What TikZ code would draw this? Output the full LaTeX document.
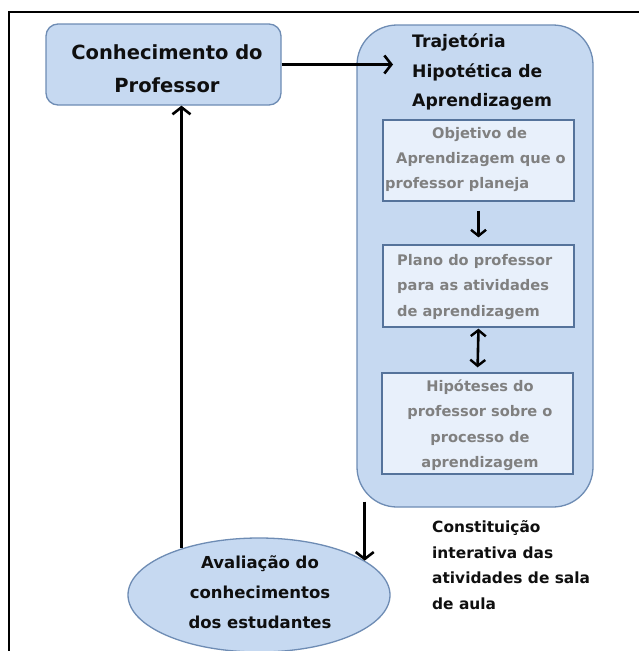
\documentclass[tikz,border=0pt]{standalone}
\usepackage{fontspec}
\setmainfont{DejaVu Sans}
\usetikzlibrary{arrows.meta,shapes.geometric}
\definecolor{fillc}{RGB}{198,217,241}
\definecolor{bordc}{RGB}{110,140,180}
\definecolor{innerfill}{RGB}{232,240,251}
\definecolor{innerbd}{RGB}{85,115,155}
\definecolor{graytxt}{RGB}{128,128,128}
\definecolor{blacktxt}{RGB}{15,15,15}
\tikzset{
  bluebox/.style={draw=bordc, fill=fillc, line width=1.3pt, inner sep=0pt},
  innerbox/.style={draw=innerbd, fill=innerfill, line width=1.3pt, inner sep=0pt},
  arr/.style={-{Straight Barb[length=7pt,width=18pt,line width=2.6pt]}, line width=2.8pt},
  smallarr/.style={-{Straight Barb[length=6pt,width=15pt,line width=2.4pt]}, line width=2.6pt},
  dblarr/.style={{Straight Barb[length=6pt,width=15pt,line width=2.4pt]}-{Straight Barb[length=6pt,width=15pt,line width=2.4pt]}, line width=2.6pt},
  txt/.style={inner sep=0pt, text=blacktxt, font=\bfseries},
  graytext/.style={inner sep=0pt, text=graytxt, font=\bfseries},
}
\begin{document}
\begin{tikzpicture}[x=1pt,y=-1pt]
\useasboundingbox (0,0) rectangle (639,651);
\fill[white] (0,0) rectangle (639,651);
% frame
\draw[line width=2.5pt, line cap=rect] (9,652) -- (9,12) -- (640,12);

% Conhecimento do Professor
\node[bluebox, rounded corners=12pt, minimum width=235pt, minimum height=81pt] (box1) at (163.5,64.5) {};
\node[txt, align=center, font=\bfseries\fontsize{19.5}{33}\selectfont] (t1) at (167,68.5) {Conhecimento do\\Professor};

% big rounded rectangle
\node[bluebox, rounded corners=40pt, minimum width=236pt, minimum height=482pt] (thl) at (475,266) {};
\node[txt, align=left, anchor=west, font=\bfseries\fontsize{17.2}{29.5}\selectfont] (title) at (412,72) {Trajetória\\Hipotética de\\Aprendizagem};

% inner boxes
\node[innerbox, minimum width=191pt, minimum height=81pt] (ib1) at (478.5,160.5) {};
\node[graytext, align=left, anchor=west, font=\bfseries\fontsize{14.6}{25}\selectfont] (it1) at (385,160) {\hspace*{47pt}Objetivo de\\\hspace*{11pt}Aprendizagem que o\\professor planeja};

\node[innerbox, minimum width=191pt, minimum height=82pt] (ib2) at (478.5,286) {};
\node[graytext, align=left, anchor=west, font=\bfseries\fontsize{14.6}{25.5}\selectfont] (it2) at (397,287) {Plano do professor\\para as atividades\\de aprendizagem};

\node[innerbox, minimum width=191pt, minimum height=101pt] (ib3) at (477.5,423.5) {};
\node[graytext, align=center, font=\bfseries\fontsize{14.6}{25.5}\selectfont] (it3) at (480,425) {Hipóteses do\\professor sobre o\\processo de\\aprendizagem};

% ellipse
\node[bluebox, ellipse, minimum width=262pt, minimum height=114pt] (ell) at (259,595) {};
\node[txt, align=center, font=\bfseries\fontsize{16.5}{30}\selectfont] (et) at (260,592) {Avaliação do\\conhecimentos\\dos estudantes};

% label
\node[txt, align=left, anchor=west, font=\bfseries\fontsize{15.4}{25.5}\selectfont] (lab) at (432,565) {Constituição\\interativa das\\atividades de sala\\de aula};

% connectors
\coordinate (tipA) at (393,64.5);
\coordinate (thlb) at ([yshift=6pt]thl.south);
\draw[arr] (box1.east) -- (tipA);
\draw[smallarr, shorten <=9pt, shorten >=7pt] (ib1.south) -- (ib2.north);
\draw[dblarr, shorten <=1pt, shorten >=5pt] (ib2.south) -- (ib3.north);
\draw[arr] (ell.18 |- thlb) -- (ell.18);
\draw[arr] (ell.149) -- (ell.149 |- box1.south);
\end{tikzpicture}
\end{document}
